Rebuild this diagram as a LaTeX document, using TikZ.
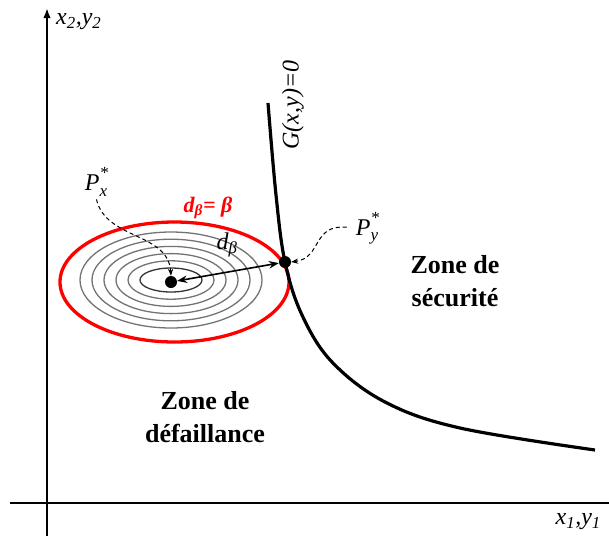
\documentclass[tikz,border=0pt]{standalone}
\usepackage{fontspec}
\setmainfont{Liberation Serif}
\usetikzlibrary{arrows.meta, positioning}
\newcommand{\lo}[1]{\textsubscript{#1}}
\newcommand{\both}[2]{\rlap{\raisebox{0.5em}{\fontsize{17}{17}\selectfont #1}}\raisebox{-0.22em}{\fontsize{17}{17}\selectfont #2}}

\begin{document}
\begin{tikzpicture}[x=1pt, y=-1pt,
    dot/.style={circle, fill=black, inner sep=0pt, minimum size=12pt},
    lbl/.style={font=\fontsize{24}{28}\selectfont\itshape, inner sep=1pt},
    zone/.style={font=\fontsize{26}{33}\selectfont\bfseries, align=center},
    contour/.style={black!55, line width=1.3pt},
    pointer/.style={dash pattern=on 4pt off 3pt, line width=1pt, -{Stealth[length=7pt]}}]
    \useasboundingbox (0,0) rectangle (609,536);

    % Axes
    \draw[line width=2.2pt, -{Latex[length=10pt]}] (47,536) -- (47,8);
    \draw[line width=2.2pt] (10,503) -- (609,503);
    \node[lbl, anchor=west] (ylab) at (55,22) {x\lo{2},y\lo{2}};
    \node[lbl, anchor=east] (xlab) at (602,522) {x\lo{1},y\lo{1}};

    % Iso-density contours
    \draw[black!80, line width=1.3pt] (171,280) ellipse [x radius=31, y radius=12];
    \foreach \k in {1,...,5}
        \draw[contour] (171,280) ellipse [x radius={31+12*\k}, y radius={12+7.2*\k}];
    \draw[red, line width=3.3pt] (174.5,282) ellipse [x radius=114.5, y radius=60];

    % Limit state
    \draw[line width=3.2pt] plot[smooth, tension=0.6] coordinates {(268,103) (276,195) (285,262) (302,315) (332,362) (385,402) (460,428) (595,450)};
    \node[lbl, rotate=90] (glab) at (293,105) {G(x,y)=0};

    % Points
    \node[dot] (Px) at (171,282) {};
    \node[dot] (Py) at (285,262) {};
    \draw[line width=1.6pt, {Stealth[length=10pt]}-{Stealth[length=10pt]}] (Px) -- (Py);
    \node[lbl] (dlab) at (227,245) {d\lo{β}};
    \node[font=\fontsize{22}{26}\selectfont\bfseries\itshape, text=red] (blab) at (208,208) {d\lo{β}= β};
    \node[lbl] (pxlab) at (96,182) {P\both{*}{x}};
    \draw[pointer, shorten <=2pt] (pxlab.south) .. controls (106,240) and (168,232) .. (Px.north);
    \node[lbl] (pylab) at (367,228) {P\both{*}{y}};
    \draw[pointer, shorten <=8pt] (pylab.west) .. controls (312,224) and (322,258) .. (Py.east);

    % Zones
    \node[zone] (safe) at (455,281) {Zone de\\sécurité};
    \node[zone] (fail) at (205,417) {Zone de\\défaillance};
\end{tikzpicture}
\end{document}
